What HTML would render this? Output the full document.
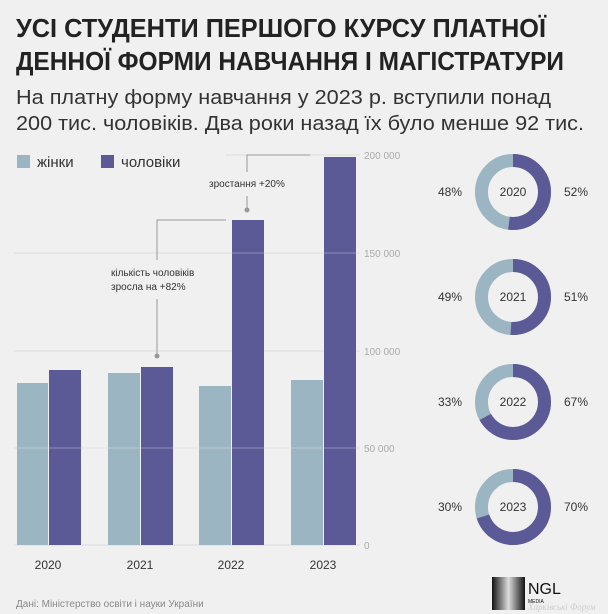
<!DOCTYPE html>
<html><head><meta charset="utf-8"><style>
body{margin:0;background:#f0f0f0;}
svg{display:block;font-family:"Liberation Sans","DejaVu Sans",sans-serif;}
</style></head><body>
<svg width="608" height="614" viewBox="0 0 608 614" xmlns="http://www.w3.org/2000/svg">
<rect width="608" height="614" fill="#f0f0f0"/>
<text x="16" y="37" font-size="26" font-weight="bold" fill="#222" textLength="530" lengthAdjust="spacingAndGlyphs">УСІ СТУДЕНТИ ПЕРШОГО КУРСУ ПЛАТНОЇ</text>
<text x="16" y="70" font-size="26" font-weight="bold" fill="#222" textLength="548" lengthAdjust="spacingAndGlyphs">ДЕННОЇ ФОРМИ НАВЧАННЯ І МАГІСТРАТУРИ</text>
<text x="16" y="104" font-size="20" fill="#333" textLength="535" lengthAdjust="spacingAndGlyphs">На платну форму навчання у 2023 р. вступили понад</text>
<text x="16" y="130" font-size="20" fill="#333" textLength="568" lengthAdjust="spacingAndGlyphs">200 тис. чоловіків. Два роки назад їх було менше 92 тис.</text>
<rect x="17" y="155" width="13" height="13" fill="#9bb5c3"/>
<text x="37" y="167" font-size="15" fill="#333">жінки</text>
<rect x="101" y="155" width="13" height="13" fill="#5c5a96"/>
<text x="121" y="167" font-size="15" fill="#333">чоловіки</text>
<g stroke="#dcdcdc" stroke-width="1">
<line x1="225" y1="155" x2="360" y2="155"/><line x1="14" y1="253" x2="360" y2="253"/>
<line x1="14" y1="351" x2="360" y2="351"/><line x1="14" y1="448" x2="360" y2="448"/>
<line x1="14" y1="545" x2="360" y2="545"/>
</g>
<g font-size="10" fill="#aaa">
<text x="364" y="159">200 000</text><text x="364" y="257">150 000</text>
<text x="364" y="355">100 000</text><text x="364" y="452">50 000</text><text x="364" y="549">0</text>
</g>
<g fill="#9bb5c3">
<rect x="17" y="383" width="31" height="162"/><rect x="108" y="373" width="32" height="172"/>
<rect x="199" y="386" width="32" height="159"/><rect x="291" y="380" width="32" height="165"/>
</g>
<g fill="#5c5a96">
<rect x="49" y="370" width="32" height="175"/><rect x="141" y="367" width="32" height="178"/>
<rect x="232" y="220" width="32" height="325"/><rect x="324" y="157" width="32" height="388"/>
</g>
<g stroke="#f0f0f0" stroke-width="1" opacity="0.35">
<line x1="232" y1="253" x2="264" y2="253"/><line x1="324" y1="253" x2="356" y2="253"/>
<line x1="17" y1="448" x2="356" y2="448"/><line x1="17" y1="448" x2="356" y2="448"/>
</g>
<g stroke="#999" stroke-width="1" fill="none">
<polyline points="226,220 157,220 157,260"/><line x1="157" y1="299" x2="157" y2="355"/>
<polyline points="310,155 247,155 247,172"/><line x1="247" y1="196" x2="247" y2="209"/>
</g>
<circle cx="157" cy="356" r="2.5" fill="#999"/><circle cx="247" cy="210" r="2.5" fill="#999"/>
<g font-size="10" fill="#333">
<text x="111" y="276">кількість чоловіків</text><text x="111" y="290">зросла на +82%</text>
<text x="209" y="187">зростання +20%</text>
</g>
<g font-size="12" fill="#333" text-anchor="middle">
<text x="48" y="569">2020</text><text x="140" y="569">2021</text><text x="231" y="569">2022</text><text x="323" y="569">2023</text>
</g>
<text x="16" y="607" font-size="10" fill="#888">Дані: Міністерство освіти і науки України</text>
<g fill="none" stroke-width="13">
<g transform="translate(513,192)"><circle r="31.5" stroke="#9bb5c3"/><circle r="31.5" stroke="#5c5a96" stroke-dasharray="102.9 200" transform="rotate(-90)"/></g>
<g transform="translate(513,297)"><circle r="31.5" stroke="#9bb5c3"/><circle r="31.5" stroke="#5c5a96" stroke-dasharray="100.9 200" transform="rotate(-90)"/></g>
<g transform="translate(513,402)"><circle r="31.5" stroke="#9bb5c3"/><circle r="31.5" stroke="#5c5a96" stroke-dasharray="132.6 200" transform="rotate(-90)"/></g>
<g transform="translate(513,507)"><circle r="31.5" stroke="#9bb5c3"/><circle r="31.5" stroke="#5c5a96" stroke-dasharray="138.5 200" transform="rotate(-90)"/></g>
</g>
<g font-size="12" fill="#333" text-anchor="middle">
<text x="513" y="196">2020</text><text x="513" y="301">2021</text><text x="513" y="406">2022</text><text x="513" y="511">2023</text>
<text x="450" y="196">48%</text><text x="576" y="196">52%</text>
<text x="450" y="301">49%</text><text x="576" y="301">51%</text>
<text x="450" y="406">33%</text><text x="576" y="406">67%</text>
<text x="450" y="511">30%</text><text x="576" y="511">70%</text>
</g>
<defs><linearGradient id="g" x1="0" x2="1"><stop offset="0" stop-color="#111"/><stop offset="0.5" stop-color="#ddd"/><stop offset="1" stop-color="#111"/></linearGradient></defs>
<rect x="492" y="577" width="33" height="33" fill="url(#g)"/>
<text x="528" y="594" font-size="16" fill="#111">NGL</text>
<text x="528" y="603" font-size="5" fill="#111">MEDIA</text>
<text x="528" y="610" font-size="9" fill="#ccc" font-family="Liberation Serif,serif" font-style="italic">Харківські Форум</text>
</svg>
</body></html>
